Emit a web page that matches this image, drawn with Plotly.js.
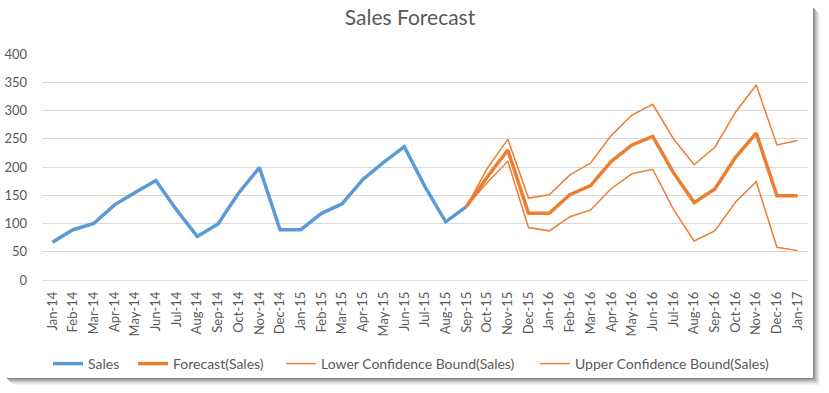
<!DOCTYPE html>
<html>
<head>
<meta charset="utf-8">
<script src="https://cdn.plot.ly/plotly-3.0.1.min.js"></script>
<style>html,body{margin:0;padding:0;background:#fff;}#chart{width:829px;height:393px;}</style>
</head>
<body>
<div id="chart"></div>
<script>
const months = ["Jan-14","Feb-14","Mar-14","Apr-14","May-14","Jun-14","Jul-14","Aug-14","Sep-14","Oct-14","Nov-14","Dec-14",
"Jan-15","Feb-15","Mar-15","Apr-15","May-15","Jun-15","Jul-15","Aug-15","Sep-15","Oct-15","Nov-15","Dec-15",
"Jan-16","Feb-16","Mar-16","Apr-16","May-16","Jun-16","Jul-16","Aug-16","Sep-16","Oct-16","Nov-16","Dec-16","Jan-17"];
const sales = [67,89,100,133,155,176,124,77,99,154,199,89,89,118,135,178,208,236,165,103,130,
  null,null,null,null,null,null,null,null,null,null,null,null,null,null,null,null];
const forecast = [null,null,null,null,null,null,null,null,null,null,null,null,null,null,null,null,null,null,null,null,
  130,182,230,118,118,151,167,210,239,254,190,137,161,217,260,149,149];
const lowerBound = [null,null,null,null,null,null,null,null,null,null,null,null,null,null,null,null,null,null,null,null,
  130,172,210,93,87,112,124,162,188,196,125,69,87,138,174,58,52];
const upperBound = [null,null,null,null,null,null,null,null,null,null,null,null,null,null,null,null,null,null,null,null,
  130,197,249,145,151,186,207,256,292,311,250,204,235,297,345,239,247];
const yTicks = [0,50,100,150,200,250,300,350,400];

const FONT = "Lato, 'Open Sans', sans-serif";
const blue = "#5b9bd5", orange = "#ed7d31";

// pixel -> paper helpers (plot area: x 42..808, y 54..280)
const L = 42, R = 21, T = 54, B = 113, W = 829 - L - R, H = 393 - T - B;
const px = v => (v - L) / W;
const py = v => (393 - B - v) / H;

const traces = [
  {x: months, y: sales, name: "Sales", type: "scatter", mode: "lines", line: {color: blue, width: 3.5}, legend: "legend"},
  {x: months, y: forecast, name: "Forecast(Sales)", type: "scatter", mode: "lines", line: {color: orange, width: 3.5}, legend: "legend2"},
  {x: months, y: lowerBound, name: "Lower Confidence Bound(Sales)", type: "scatter", mode: "lines", line: {color: orange, width: 1.5}, legend: "legend3"},
  {x: months, y: upperBound, name: "Upper Confidence Bound(Sales)", type: "scatter", mode: "lines", line: {color: orange, width: 1.5}, legend: "legend4"}
];

const shapes = [];
const shades = ["#8a8a8a","#a0a0a0","#b5b5b5","#c8c8c8","#dadada","#e8e8e8","#f3f3f3"];
shades.forEach((c, i) => {
  shapes.push({type: "rect", xref: "paper", yref: "paper", layer: "below",
    x0: px(813 + i), x1: px(814 + i), y0: py(380 + i*0.6), y1: py(8 + i),
    fillcolor: c, line: {width: 0}});
  shapes.push({type: "rect", xref: "paper", yref: "paper", layer: "below",
    x0: px(7 + i), x1: px(814 + i), y0: py(378 + i), y1: py(379 + i),
    fillcolor: c, line: {width: 0}});
});

const legendBase = textStart => ({orientation: "h", x: px(textStart - 40), xanchor: "left", y: py(364), yanchor: "middle",
  font: {family: FONT, size: 14, color: "#595959"}, bgcolor: "rgba(0,0,0,0)", borderwidth: 0});

const layout = {
  width: 829, height: 393,
  margin: {l: L, r: R, t: T, b: B},
  paper_bgcolor: "#ffffff", plot_bgcolor: "#ffffff",
  font: {family: FONT, color: "#595959", size: 13},
  title: {text: "Sales Forecast", font: {family: FONT, size: 21, color: "#595959"},
    x: 410/829, xref: "container", xanchor: "center", y: 1 - 18/393, yref: "container", yanchor: "middle"},
  xaxis: {type: "category", categoryorder: "array", categoryarray: months, range: [-0.5, 36.5],
    tickangle: -90, showgrid: false, zeroline: false, showline: false, ticks: "",
    tickfont: {family: FONT, size: 13, color: "#595959"}, ticklabelstandoff: 8, fixedrange: true},
  yaxis: {range: [0, 400], tickvals: yTicks, showgrid: true, gridcolor: "#d9d9d9", gridwidth: 1,
    zeroline: true, zerolinecolor: "#d9d9d9", zerolinewidth: 1, showline: false, ticks: "",
    tickfont: {family: FONT, size: 13, color: "#595959"}, ticklabelstandoff: 14, fixedrange: true},
  showlegend: true,
  legend: legendBase(88),
  legend2: legendBase(173),
  legend3: legendBase(321),
  legend4: legendBase(575),
  shapes: shapes
};

Plotly.newPlot("chart", traces, layout, {displayModeBar: false, staticPlot: true});
</script>
</body>
</html>
